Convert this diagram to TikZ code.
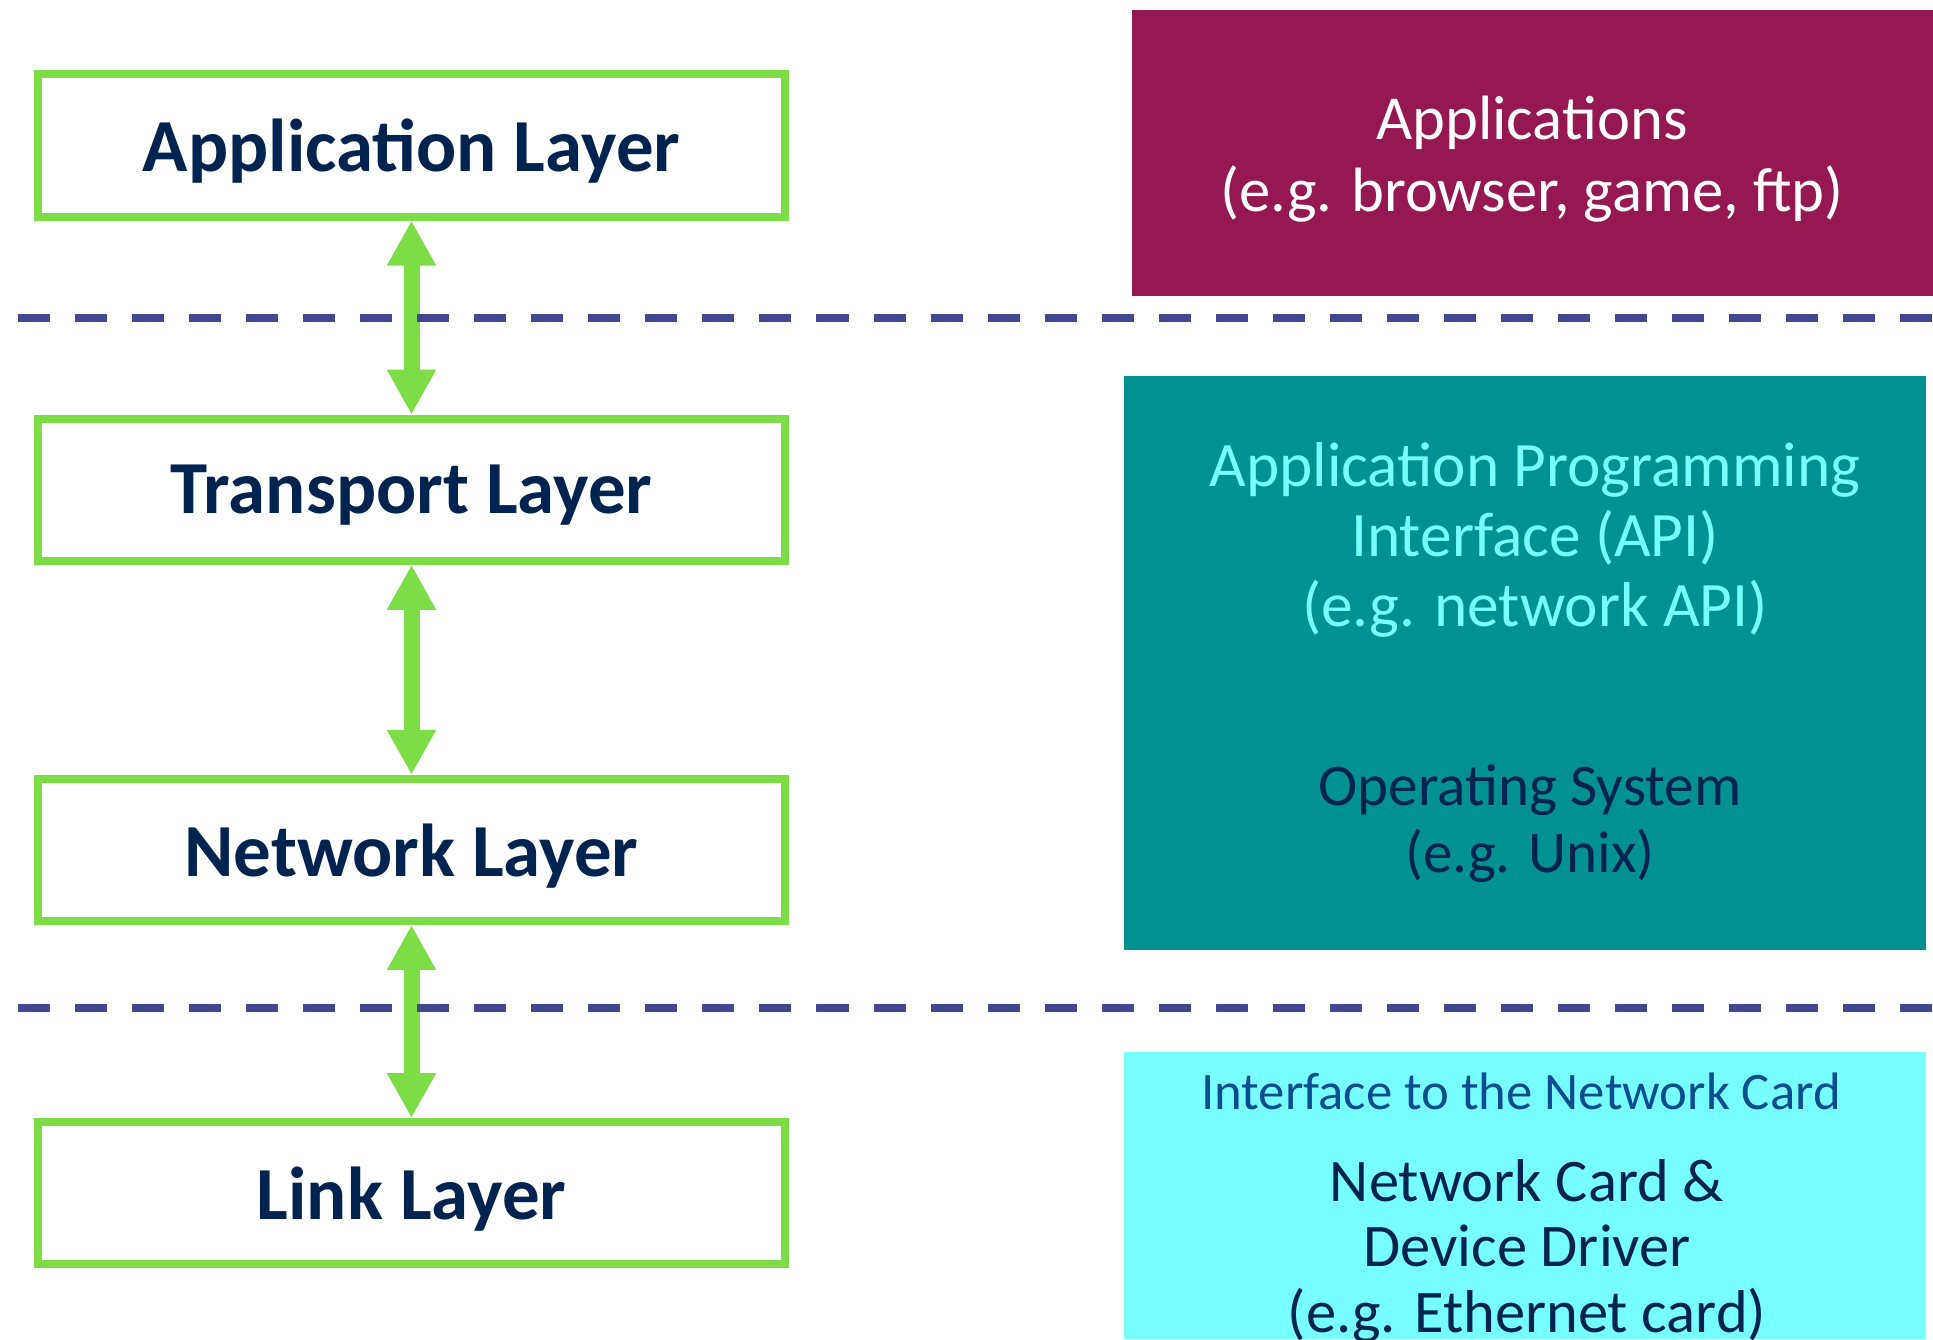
\documentclass[tikz,border=0pt]{standalone}
\usepackage{fontspec}
\setmainfont{Carlito}
\usetikzlibrary{arrows.meta,positioning}

\definecolor{layergreen}{HTML}{7CDD46}
\definecolor{textnavy}{HTML}{00234F}
\definecolor{dashblue}{HTML}{434691}
\definecolor{appmaroon}{HTML}{951850}
\definecolor{osteal}{HTML}{009190}
\definecolor{cardcyan}{HTML}{77FFFF}
\definecolor{apicyan}{HTML}{76FFFB}
\definecolor{ifaceblue}{HTML}{0B4D8E}

\tikzset{
  layer/.style={draw=layergreen,line width=0.08cm,fill=white,
    minimum width=7.47cm,minimum height=1.42cm,text=textnavy,text depth=0pt,
    font=\fontsize{21.3}{25}\selectfont\bfseries},
  link/.style={{Triangle[width=0.46cm,length=0.45cm]}-{Triangle[width=0.46cm,length=0.45cm]},
    draw=layergreen,line width=0.16cm},
  boundary/.style={draw=dashblue,line width=0.08cm,dash pattern=on 0.32cm off 0.25cm},
  sidetext/.style={align=center,font=\fontsize{17.5}{20}\selectfont}
}

\begin{document}
\begin{tikzpicture}[x=0.01cm,y=-0.01cm,node distance=3.44cm,on grid]
 \useasboundingbox (0,0) rectangle (1933,1339);
 % protocol layers
 \node[layer] (app) at (411.5,145.5) {Application Layer};
 \node[layer] (trans) [below=of app] {Transport Layer};
 \node[layer] (net) [below=3.6cm of trans] {Network Layer};
 \node[layer] (lnk) [below=3.43cm of net] {Link Layer};
 \draw[link] (app.south) -- (trans.north);
 \draw[link] (trans.south) -- (net.north);
 \draw[link] (net.south) -- (lnk.north);
 % boundaries
 \coordinate (b1l) at (18,318);   \coordinate (b1r) at (1933,318);
 \coordinate (b2l) at (18,1008);  \coordinate (b2r) at (1933,1008);
 \draw[boundary] (b1l) -- (b1r);
 \draw[boundary] (b2l) -- (b2r);
 % what implements each part
 \fill[appmaroon] (1132,10) rectangle (1933,296);
 \fill[osteal] (1124,376) rectangle (1926,950);
 \fill[cardcyan] (1124,1052) rectangle (1926,1339);
 \node[sidetext,text=white,font=\fontsize{17.8}{20.3}\selectfont] (apps) at (1532,159) {Applications\\(e.g. browser, game, ftp)};
 \node[sidetext,text=apicyan,font=\fontsize{18}{20}\selectfont] (api) at (1535,540) {Application Programming\\Interface (API)\\(e.g. network API)};
 \node[sidetext,text=textnavy,font=\fontsize{16.8}{19}\selectfont] (os) at (1530,824) {Operating System\\(e.g. Unix)};
 \node[sidetext,text=ifaceblue,font=\fontsize{15}{18}\selectfont] (iface) at (1521,1091) {Interface to the Network Card};
 \node[sidetext,text=textnavy,font=\fontsize{17.2}{18.6}\selectfont] (card) at (1527,1251) {Network Card \&\\Device Driver\\(e.g. Ethernet card)};
\end{tikzpicture}
\end{document}
